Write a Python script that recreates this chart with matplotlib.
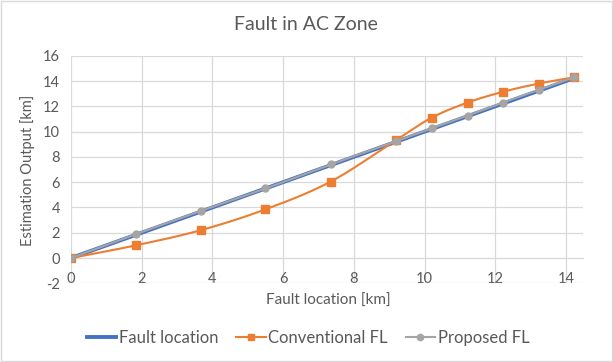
import matplotlib.pyplot as plt
import numpy as np

plt.rcParams['font.family'] = ['Lato', 'DejaVu Sans']
plt.rcParams['axes.unicode_minus'] = False

# data
fault_x = [0, 1.83, 3.67, 5.5, 7.35, 9.18, 10.2, 11.22, 12.22, 13.23, 14.24]
fault_y = [0, 1.83, 3.67, 5.5, 7.35, 9.18, 10.2, 11.22, 12.22, 13.23, 14.24]
conv_y = [0, 1.0, 2.2, 3.85, 6.05, 9.3, 11.1, 12.3, 13.15, 13.8, 14.3]
prop_y = [0, 1.88, 3.72, 5.5, 7.4, 9.22, 10.25, 11.27, 12.3, 13.3, 14.3]

x_ticks = [0, 2, 4, 6, 8, 10, 12, 14]
y_ticks = [-2, 0, 2, 4, 6, 8, 10, 12, 14, 16]

BLUE = '#4472C4'
ORANGE = '#ED7D31'
GRAY = '#A5A5A5'
TEXT = '#595959'
GRID = '#D9D9D9'


def smooth(x, y, n=30):
    # Excel style smoothed line (cardinal bezier through the points)
    p = np.column_stack([x, y]).astype(float)
    pts = [p[0]] + list(p) + [p[-1]]
    out = []
    for i in range(1, len(pts) - 2):
        p0, p1, p2, p3 = pts[i - 1], pts[i], pts[i + 1], pts[i + 2]
        c1 = p1 + (p2 - p0) / 6
        c2 = p2 - (p3 - p1) / 6
        t = np.linspace(0, 1, n)[:, None]
        seg = ((1 - t) ** 3) * p1 + 3 * ((1 - t) ** 2) * t * c1 + 3 * (1 - t) * t ** 2 * c2 + t ** 3 * p2
        out.append(seg)
    s = np.vstack(out)
    return s[:, 0], s[:, 1]


fig = plt.figure(figsize=(6.13, 3.62), dpi=100)
ax = fig.add_axes([0.1158, 0.2174, 0.951 - 0.1158, 0.846 - 0.2174])

ax.plot(fault_x, fault_y, color=BLUE, lw=2.8, solid_capstyle='round', zorder=3)
sx, sy = smooth(fault_x, conv_y)
ax.plot(sx, sy, color=ORANGE, lw=1.5, zorder=4)
ax.plot(fault_x, conv_y, ls='none', marker='s', ms=5.5, color=ORANGE, zorder=4)
sx, sy = smooth(fault_x, prop_y)
ax.plot(sx, sy, color=GRAY, lw=1.5, zorder=5)
ax.plot(fault_x, prop_y, ls='none', marker='o', ms=5, color=GRAY, zorder=5)

ax.set_xlim(0, 14.48)
ax.set_ylim(-2, 16)
ax.set_xticks(x_ticks)
ax.set_yticks(y_ticks)
ax.grid(True, color=GRID, lw=0.9)
ax.set_axisbelow(True)
for s in ['top', 'right', 'left']:
    ax.spines[s].set_visible(False)
ax.spines['bottom'].set_position(('data', 0))
ax.spines['bottom'].set_color(GRID)
ax.tick_params(length=0, colors=TEXT, labelsize=10.5)
ax.tick_params(axis='x', pad=10)
ax.tick_params(axis='y', pad=8)

fig.text(328 / 613, 1 - 301 / 362, 'Fault location [km]', ha='center', va='center', color=TEXT, fontsize=11)
fig.text(28 / 613, 1 - 170 / 362, 'Estimation Output [km]', ha='center', va='center',
         rotation=90, color=TEXT, fontsize=10.5)

fig.text(306 / 613, 1 - 24 / 362, 'Fault in AC Zone', ha='center', va='center', color=TEXT, fontsize=14)

h1, = ax.plot([], [], color=BLUE, lw=2.8)
h2, = ax.plot([], [], color=ORANGE, lw=1.5, marker='s', ms=5)
h3, = ax.plot([], [], color=GRAY, lw=1.5, marker='o', ms=4.5)
fig.legend([h1, h2, h3], ['Fault location', 'Conventional FL', 'Proposed FL'],
           loc='center', bbox_to_anchor=(308 / 613, 1 - 338 / 362), ncol=3, frameon=False,
           fontsize=12, labelcolor=TEXT, handlelength=1.75, handletextpad=0.15,
           columnspacing=1.1)

fig.patches.append(plt.Rectangle((0.001, 0.002), 0.997, 0.995, transform=fig.transFigure,
                                 fill=False, edgecolor=GRID, lw=1))

fig.savefig('out.png', dpi=100)
